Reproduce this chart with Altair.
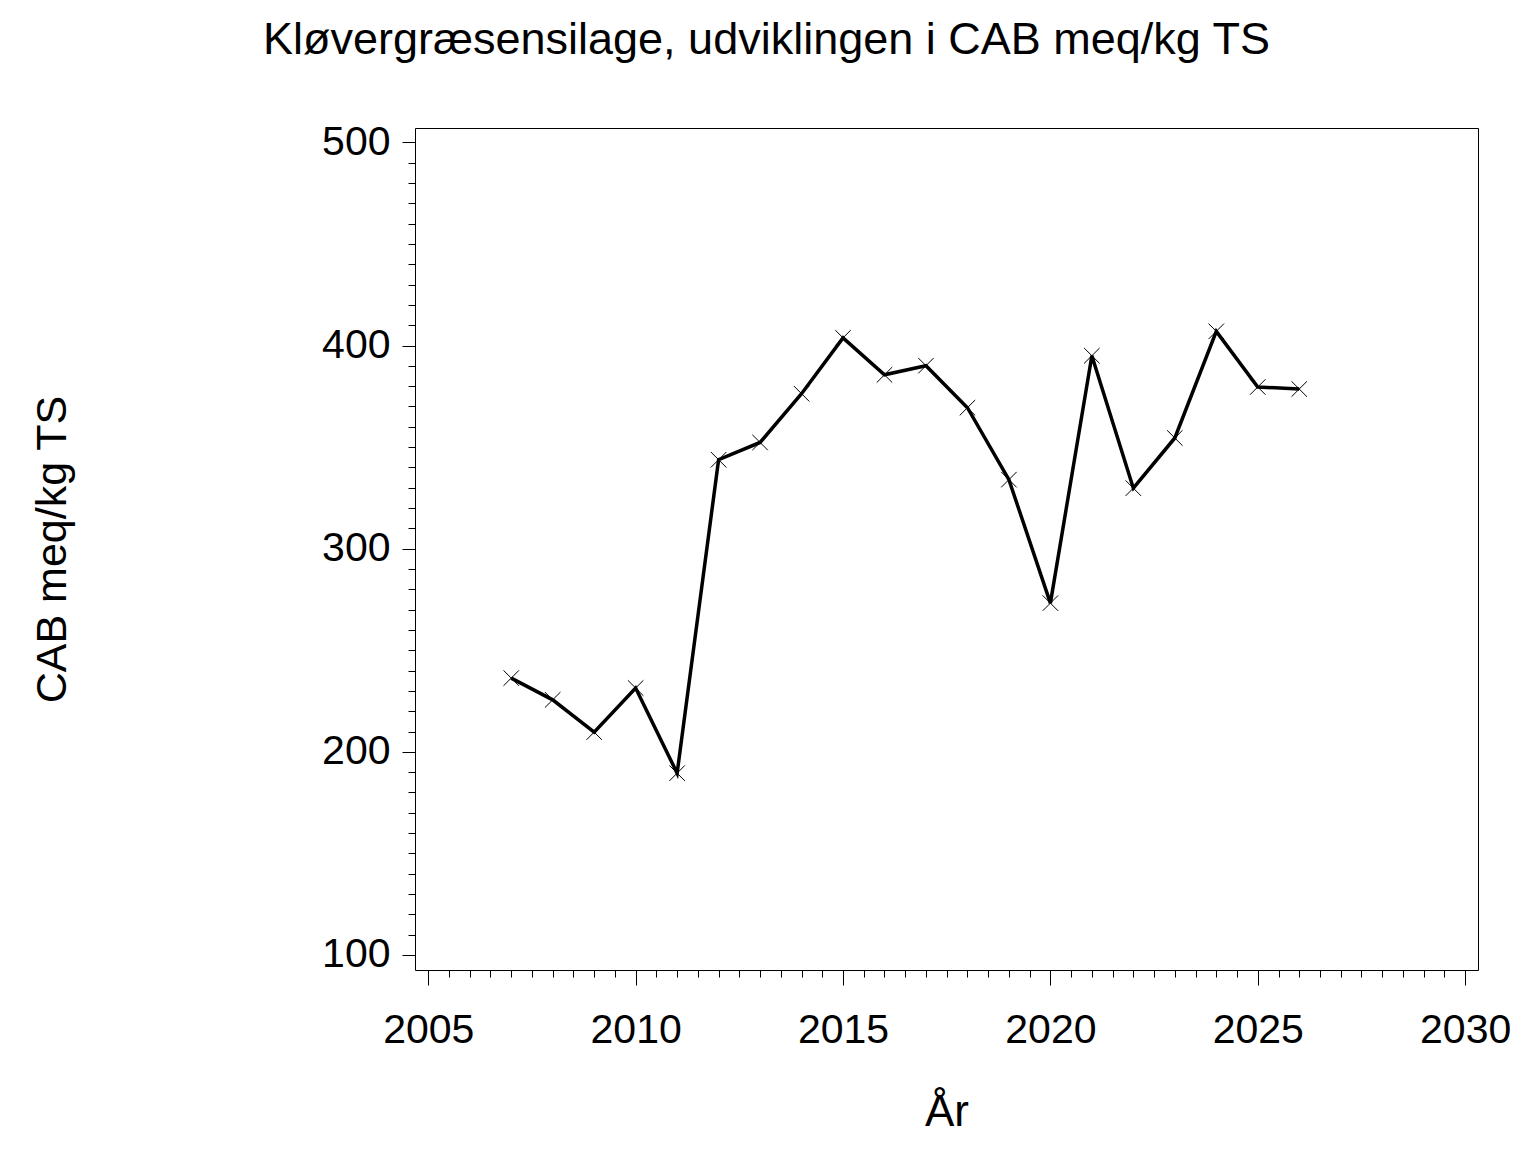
import altair as alt
import pandas as pd

years = [2007, 2008, 2009, 2010, 2011, 2012, 2013, 2014, 2015, 2016,
         2017, 2018, 2019, 2020, 2021, 2022, 2023, 2024, 2025, 2026]
cab = [236.3, 225.6, 209.7, 231.4, 189.5, 343.8, 352.3, 376.3, 403.8, 385.6,
       390.1, 369.4, 334.0, 273.2, 395.0, 329.8, 354.5, 407.0, 379.6, 378.6]

x_major = [2005, 2010, 2015, 2020, 2025, 2030]
y_major = [100, 200, 300, 400, 500]
x_minor = [2005 + 0.5 * i for i in range(51)]
y_minor = list(range(100, 501, 10))

title_text = "Kløvergræsensilage, udviklingen i CAB meq/kg TS"
x_title = "År"
y_title = "CAB meq/kg TS"

FONT = "Liberation Sans"
W, H = 1063, 842

df = pd.DataFrame({"year": years, "cab": cab})

xscale = alt.Scale(domain=[2004.68, 2030.31], nice=False, zero=False)
yscale = alt.Scale(domain=[92.6, 507.1], nice=False, zero=False)

base = alt.Chart(df)

line = base.mark_line(color="black", strokeWidth=3.5).encode(
    x=alt.X("year:Q", scale=xscale, title=x_title,
            axis=alt.Axis(orient="bottom", values=x_major, format="d",
                          tickSize=15, tickColor="black", tickWidth=1,
                          labelFontSize=41, labelFont=FONT, labelColor="black",
                          labelBaseline="alphabetic", labelPadding=57,
                          labelFlush=False, labelOverlap=False,
                          domain=False, grid=False,
                          titleFont=FONT, titleFontSize=44, titleFontWeight="normal",
                          titleColor="black", titleX=W / 2, titleY=155,
                          titleBaseline="alphabetic", titleAlign="center")),
    y=alt.Y("cab:Q", scale=yscale, title=y_title,
            axis=alt.Axis(orient="left", values=y_major, format="d",
                          tickSize=13, tickColor="black", tickWidth=1,
                          labelFontSize=41, labelFont=FONT, labelColor="black",
                          labelPadding=12, labelFlush=False, labelOverlap=False,
                          domain=False, grid=False,
                          titleFont=FONT, titleFontSize=43, titleFontWeight="normal",
                          titleColor="black", titleX=-350, titleY=H / 2,
                          titleAngle=-90, titleBaseline="alphabetic",
                          titleAlign="center")),
)

points = base.mark_point(shape="M-1,-1L1,1M-1,1L1,-1", size=240, stroke="black",
                         strokeWidth=1, filled=False, opacity=1).encode(
    x=alt.X("year:Q", scale=xscale, title=None,
            axis=alt.Axis(orient="bottom", values=x_minor, tickSize=7,
                          tickColor="black", tickWidth=1, labels=False,
                          domain=False, grid=False)),
    y=alt.Y("cab:Q", scale=yscale, title=None,
            axis=alt.Axis(orient="left", values=y_minor, tickSize=7,
                          tickColor="black", tickWidth=1, labels=False,
                          domain=False, grid=False)),
)

chart = alt.layer(line, points).resolve_axis(
    x="independent", y="independent"
).properties(
    width=W,
    height=H,
    autosize=alt.AutoSizeParams(type="none"),
    padding={"left": 407, "top": 120, "right": 40, "bottom": 175},
    title=alt.TitleParams(title_text, font=FONT, fontSize=45, fontWeight="normal",
                          color="black", anchor="middle", dx=-180, offset=22,
                          baseline="alphabetic"),
).configure(background="white").configure_view(stroke="black", strokeWidth=1)

chart.save("out.html", embed_options={"renderer": "svg", "actions": False})
